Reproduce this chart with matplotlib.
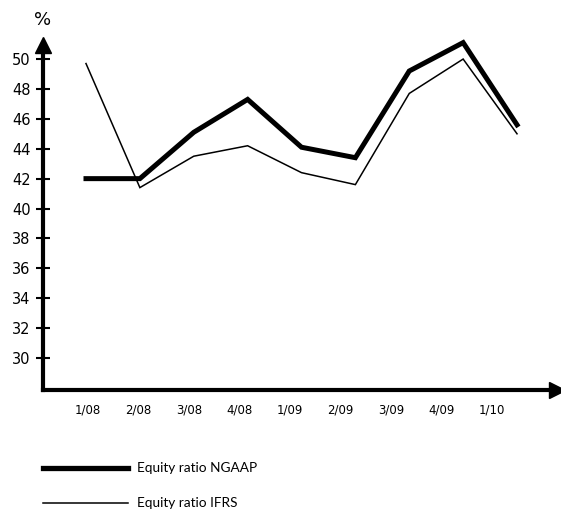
import numpy as np
import matplotlib
matplotlib.use("Agg")
from matplotlib import pyplot as plt
from matplotlib.lines import Line2D

# data
quarters = ['1/08', '2/08', '3/08', '4/08', '1/09', '2/09', '3/09', '4/09', '1/10']
ngaap = [42.0, 42.0, 45.1, 47.3, 44.1, 43.4, 49.2, 51.1, 45.6]
ifrs = [49.7, 41.4, 43.5, 44.2, 42.4, 41.6, 47.7, 50.0, 45.0]
yticks = [30, 32, 34, 36, 38, 40, 42, 44, 46, 48, 50]

W, H = 561, 511
fig = plt.figure(figsize=(W / 100, H / 100), dpi=100)


def fx(px):
    return px / W


def fy(py):
    return 1 - py / H


ax = fig.add_axes([fx(43), fy(390), fx(557) - fx(43), fy(45) - fy(390)])

x = np.arange(len(quarters))
ax.plot(x, ngaap, color='black', lw=3.6, solid_joinstyle='miter', clip_on=False)
ax.plot(x, ifrs, color='black', lw=1.1, solid_joinstyle='miter', clip_on=False)

ax.set_xlim(-0.798, 8.742)
ax.set_ylim(27.86, 50.94)

# axis lines with arrowheads
for s in ['top', 'right']:
    ax.spines[s].set_visible(False)
for s in ['left', 'bottom']:
    ax.spines[s].set_linewidth(3)
ax.plot([0], [1], marker='^', markersize=12, color='black',
        transform=ax.transAxes, clip_on=False)
ax.plot([1], [0], marker='>', markersize=12, color='black',
        transform=ax.transAxes, clip_on=False)

ax.set_yticks(yticks)
ax.set_yticklabels([str(v) for v in yticks], fontsize=10.5, fontfamily='DejaVu Sans')
ax.tick_params(axis='y', direction='inout', length=10, width=1.5, pad=4)

# quarter labels sit on a slightly tighter spacing than the points
ax.set_xticks(x * 0.937 + 0.04)
ax.set_xticklabels(quarters, fontsize=8.5, fontfamily='DejaVu Sans')
ax.tick_params(axis='x', length=0, pad=10)

fig.text(fx(43), fy(20), '%', ha='center', va='center', fontsize=13,
         fontfamily='DejaVu Sans')

# legend
fig.add_artist(Line2D([fx(43), fx(128)], [fy(468), fy(468)], color='black', lw=3.8))
fig.add_artist(Line2D([fx(43), fx(128)], [fy(503), fy(503)], color='black', lw=1.1))
fig.text(fx(137), fy(468), 'Equity ratio NGAAP', ha='left', va='center',
         fontsize=9.8, fontfamily='Lato')
fig.text(fx(137), fy(503), 'Equity ratio IFRS', ha='left', va='center',
         fontsize=9.8, fontfamily='Lato')

fig.savefig('out.png', dpi=100)
